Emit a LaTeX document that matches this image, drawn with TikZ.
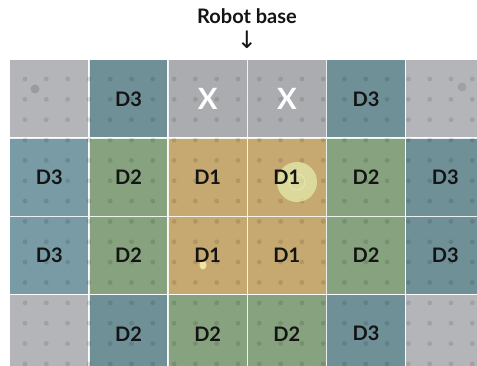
\documentclass[tikz,border=0pt]{standalone}
\usepackage{fontspec}
\setmainfont{Lato}
\newfontfamily\dejavu{DejaVu Sans}
\definecolor{cgray}{HTML}{B4B5B8}
\definecolor{cxgray}{HTML}{ABACAF}
\definecolor{cteal}{HTML}{6F9097}
\definecolor{cblue}{HTML}{789BA5}
\definecolor{cgreen}{HTML}{86A27E}
\definecolor{ctan}{HTML}{C6A970}
\definecolor{ctext}{HTML}{141414}
\definecolor{cdisc}{HTML}{E4EFB0}
\definecolor{cblob}{HTML}{F6E9A8}
\begin{document}
\begin{tikzpicture}[x=0.75pt,y=-0.75pt,
  lbl/.style={font=\bfseries\fontsize{15}{15}\selectfont,text=ctext},
  xlbl/.style={font=\bfseries\fontsize{22}{22}\selectfont,text=white},
  cell/.style={rectangle,anchor=north west,inner sep=0pt,minimum width=59.4pt,minimum height=58.7pt,
    draw=white,draw opacity=0.85,line width=1pt},
  pegdot/.style={fill=black,fill opacity=0.11}]
\useasboundingbox (0,0) rectangle (477,366);
\fill[white] (0,0) rectangle (477,366);
\begin{scope}
\clip (0,0) rectangle (477,366);
% row 0
\node[cell,fill=cgray] (c00) at (9,59) {};
\node[cell,fill=cteal] (c01) at (88.2,59) {};
\node[cell,fill=cxgray] (c02) at (167.4,59) {};
\node[cell,fill=cxgray] (c03) at (246.6,59) {};
\node[cell,fill=cteal] (c04) at (325.8,59) {};
\node[cell,fill=cgray] (c05) at (405,59) {};
% row 1
\node[cell,fill=cblue] (c10) at (9,137.3) {};
\node[cell,fill=cgreen] (c11) at (88.2,137.3) {};
\node[cell,fill=ctan] (c12) at (167.4,137.3) {};
\node[cell,fill=ctan] (c13) at (246.6,137.3) {};
\node[cell,fill=cgreen] (c14) at (325.8,137.3) {};
\node[cell,fill=cteal] (c15) at (405,137.3) {};
% row 2
\node[cell,fill=cblue] (c20) at (9,215.6) {};
\node[cell,fill=cgreen] (c21) at (88.2,215.6) {};
\node[cell,fill=ctan] (c22) at (167.4,215.6) {};
\node[cell,fill=ctan] (c23) at (246.6,215.6) {};
\node[cell,fill=cgreen] (c24) at (325.8,215.6) {};
\node[cell,fill=cteal] (c25) at (405,215.6) {};
% row 3
\node[cell,fill=cgray] (c30) at (9,293.9) {};
\node[cell,fill=cteal] (c31) at (88.2,293.9) {};
\node[cell,fill=cgreen] (c32) at (167.4,293.9) {};
\node[cell,fill=cgreen] (c33) at (246.6,293.9) {};
\node[cell,fill=cteal] (c34) at (325.8,293.9) {};
\node[cell,fill=cgray] (c35) at (405,293.9) {};
% pegboard dots
\foreach \i in {0,...,21} {
  \foreach \j in {0,...,14} {
    \fill[pegdot] ({25+21.3*\i},{79+20.35*\j}) circle[radius=2.4];
  }
}
\fill[black,fill opacity=0.14] (35,89) circle[radius=4.5];
\fill[black,fill opacity=0.11] (462,87) circle[radius=4.5];
% light disc on D1 cell
\fill[fill=cdisc,fill opacity=0.7] (297,182) circle[radius=20];
\draw[white,opacity=0.3,line width=0.6pt] (297,182) circle[radius=8];
% small yellow blob
\fill[fill=cblob,fill opacity=0.9] (203,265) ellipse[x radius=3.5,y radius=4.5];
% labels
\node[lbl] (l01) at (c01.center) {D3};
\node[xlbl] (l02) at (c02.center) {X};
\node[xlbl] (l03) at (c03.center) {X};
\node[lbl] (l04) at (c04.center) {D3};
\node[lbl] (l10) at (c10.center) {D3};
\node[lbl] (l11) at (c11.center) {D2};
\node[lbl] (l12) at (c12.center) {D1};
\node[lbl] (l13) at (c13.center) {D1};
\node[lbl] (l14) at (c14.center) {D2};
\node[lbl] (l15) at (c15.center) {D3};
\node[lbl] (l20) at (c20.center) {D3};
\node[lbl] (l21) at (c21.center) {D2};
\node[lbl] (l22) at (c22.center) {D1};
\node[lbl] (l23) at (c23.center) {D1};
\node[lbl] (l24) at (c24.center) {D2};
\node[lbl] (l25) at (c25.center) {D3};
\node[lbl] (l31) at (c31.center) {D2};
\node[lbl] (l32) at (c32.center) {D2};
\node[lbl] (l33) at (c33.center) {D2};
\node[lbl] (l34) at (c34.center) {D3};
\end{scope}
% title and arrow
\node[font=\bfseries\fontsize{15}{15}\selectfont,text=ctext] (title) at (247,16) {Robot base};
\node[font=\dejavu\fontsize{18}{18}\selectfont,text=ctext] (arr) at (247,40) {↓};
\end{tikzpicture}
\end{document}
